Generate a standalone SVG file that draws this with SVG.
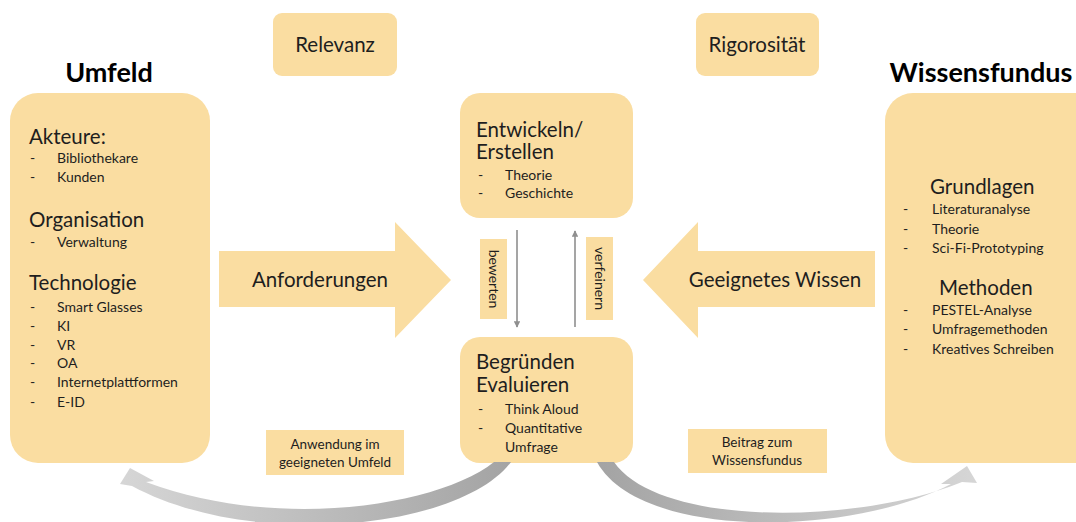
<svg xmlns="http://www.w3.org/2000/svg" width="1076" height="522" viewBox="0 0 1076 522">
<defs>
<style>
.box{fill:#FADDA1;stroke:none}
text{font-family:Lato,"Liberation Sans",sans-serif;fill:#1e1e1e}
.title{font-size:27px;font-weight:bold;fill:#000;text-anchor:middle}
.h{font-size:20.5px}
.b{font-size:14px}
.lab{font-size:20.5px;text-anchor:middle}
.sm{font-size:13.5px;text-anchor:middle}
.conn{stroke:#8f8f8f;stroke-width:1.6;fill:none}
</style>
<marker id="ah" viewBox="0 0 10 10" refX="9" refY="5" markerWidth="4" markerHeight="4" orient="auto-start-reverse" markerUnits="strokeWidth">
<path d="M0,0 L10,5 L0,10 z" fill="#8f8f8f"/>
</marker>
<linearGradient id="gl" x1="120" y1="0" x2="515" y2="0" gradientUnits="userSpaceOnUse">
<stop offset="0" stop-color="#d6d6d6"/>
<stop offset="1" stop-color="#a3a3a3"/>
</linearGradient>
<linearGradient id="gr" x1="594" y1="0" x2="977" y2="0" gradientUnits="userSpaceOnUse">
<stop offset="0" stop-color="#a3a3a3"/>
<stop offset="1" stop-color="#d6d6d6"/>
</linearGradient>
</defs>
<rect width="1076" height="522" fill="#fff"/>

<g id="title-umfeld"><text class="title" x="109" y="82">Umfeld</text></g>
<g id="title-wissensfundus"><text class="title" x="981" y="82">Wissensfundus</text></g>

<g id="relevanz">
<rect class="box" x="273" y="13" width="124" height="63" rx="9"/>
<text class="lab" x="335" y="52">Relevanz</text>
</g>
<g id="rigorositaet">
<rect class="box" x="696" y="13" width="123" height="63" rx="9"/>
<text class="lab" x="757" y="52">Rigorosität</text>
</g>

<g id="umfeld">
<rect class="box" x="10" y="93" width="200" height="370" rx="28"/>
<text class="h" x="29" y="144">Akteure:</text>
<text class="b" x="30" y="163">-</text><text class="b" x="57" y="163">Bibliothekare</text>
<text class="b" x="30" y="182">-</text><text class="b" x="57" y="182">Kunden</text>
<text class="h" x="29" y="227">Organisation</text>
<text class="b" x="30" y="247">-</text><text class="b" x="57" y="247">Verwaltung</text>
<text class="h" x="29" y="290">Technologie</text>
<text class="b" x="30" y="312">-</text><text class="b" x="57" y="312">Smart Glasses</text>
<text class="b" x="30" y="331">-</text><text class="b" x="57" y="331">KI</text>
<text class="b" x="30" y="350">-</text><text class="b" x="57" y="350">VR</text>
<text class="b" x="30" y="368">-</text><text class="b" x="57" y="368">OA</text>
<text class="b" x="30" y="387">-</text><text class="b" x="57" y="387">Internetplattformen</text>
<text class="b" x="30" y="407">-</text><text class="b" x="57" y="407">E-ID</text>
</g>

<g id="wissensfundus">
<rect class="box" x="885" y="93" width="220" height="370" rx="28"/>
<text class="h" x="930" y="194">Grundlagen</text>
<text class="b" x="903" y="214">-</text><text class="b" x="932" y="214">Literaturanalyse</text>
<text class="b" x="903" y="234">-</text><text class="b" x="932" y="234">Theorie</text>
<text class="b" x="903" y="253">-</text><text class="b" x="932" y="253">Sci-Fi-Prototyping</text>
<text class="h" x="939" y="295">Methoden</text>
<text class="b" x="903" y="315">-</text><text class="b" x="932" y="315">PESTEL-Analyse</text>
<text class="b" x="903" y="334">-</text><text class="b" x="932" y="334">Umfragemethoden</text>
<text class="b" x="903" y="354">-</text><text class="b" x="932" y="354">Kreatives Schreiben</text>
</g>

<g id="entwickeln">
<rect class="box" x="460" y="93" width="173" height="125" rx="20"/>
<text class="h" x="476" y="137">Entwickeln/</text>
<text class="h" x="476" y="159">Erstellen</text>
<text class="b" x="478" y="180">-</text><text class="b" x="505" y="180">Theorie</text>
<text class="b" x="478" y="198">-</text><text class="b" x="505" y="198">Geschichte</text>
</g>

<g id="begruenden">
<rect class="box" x="460" y="337" width="173" height="126" rx="20"/>
<text class="h" x="476" y="369">Begründen</text>
<text class="h" x="476" y="392">Evaluieren</text>
<text class="b" x="478" y="414">-</text><text class="b" x="505" y="414">Think Aloud</text>
<text class="b" x="478" y="433">-</text><text class="b" x="505" y="433">Quantitative</text>
<text class="b" x="505" y="452">Umfrage</text>
</g>

<g id="anforderungen">
<path class="box" d="M219,251 L395,251 L395,222 L451,280 L395,338 L395,307 L219,307 Z"/>
<text class="lab" x="320" y="287">Anforderungen</text>
</g>

<g id="geeignetes-wissen">
<path class="box" d="M875,251 L698,251 L698,222 L643,280 L698,338 L698,307 L875,307 Z"/>
<text class="lab" x="775" y="287">Geeignetes Wissen</text>
</g>

<g id="label-bewerten">
<rect class="box" x="480" y="239" width="27" height="80"/>
<text class="b" text-anchor="middle" transform="translate(493.5,279) rotate(90)" x="0" y="5">bewerten</text>
</g>
<g id="label-verfeinern">
<rect class="box" x="586" y="237" width="27" height="83"/>
<text class="b" text-anchor="middle" transform="translate(599.5,278.5) rotate(90)" x="0" y="5">verfeinern</text>
</g>

<g id="label-anwendung">
<rect class="box" x="266" y="430" width="138" height="45"/>
<text class="sm" x="335" y="449">Anwendung im</text>
<text class="sm" x="335" y="467">geeigneten Umfeld</text>
</g>
<g id="label-beitrag">
<rect class="box" x="688" y="429" width="139" height="44"/>
<text class="sm" x="757" y="447">Beitrag zum</text>
<text class="sm" x="757" y="465">Wissensfundus</text>
</g>

<g id="connectors">
<line class="conn" x1="517" y1="230" x2="517" y2="327" marker-end="url(#ah)"/>
<line class="conn" x1="575" y1="327" x2="575" y2="231" marker-end="url(#ah)"/>
<path fill="url(#gl)" d="M494,462 C440,505 280,532 146,482 L154,481 L130,468 L120,484 L132,486 C250,550 460,530 511,462 Z"/>
<path fill="url(#gr)" d="M597,462 C640,540 850,537 951,484 L941,484 L967,466 L977,483 L962,482 C860,524 660,528 614,462 Z"/>
</g>
</svg>
